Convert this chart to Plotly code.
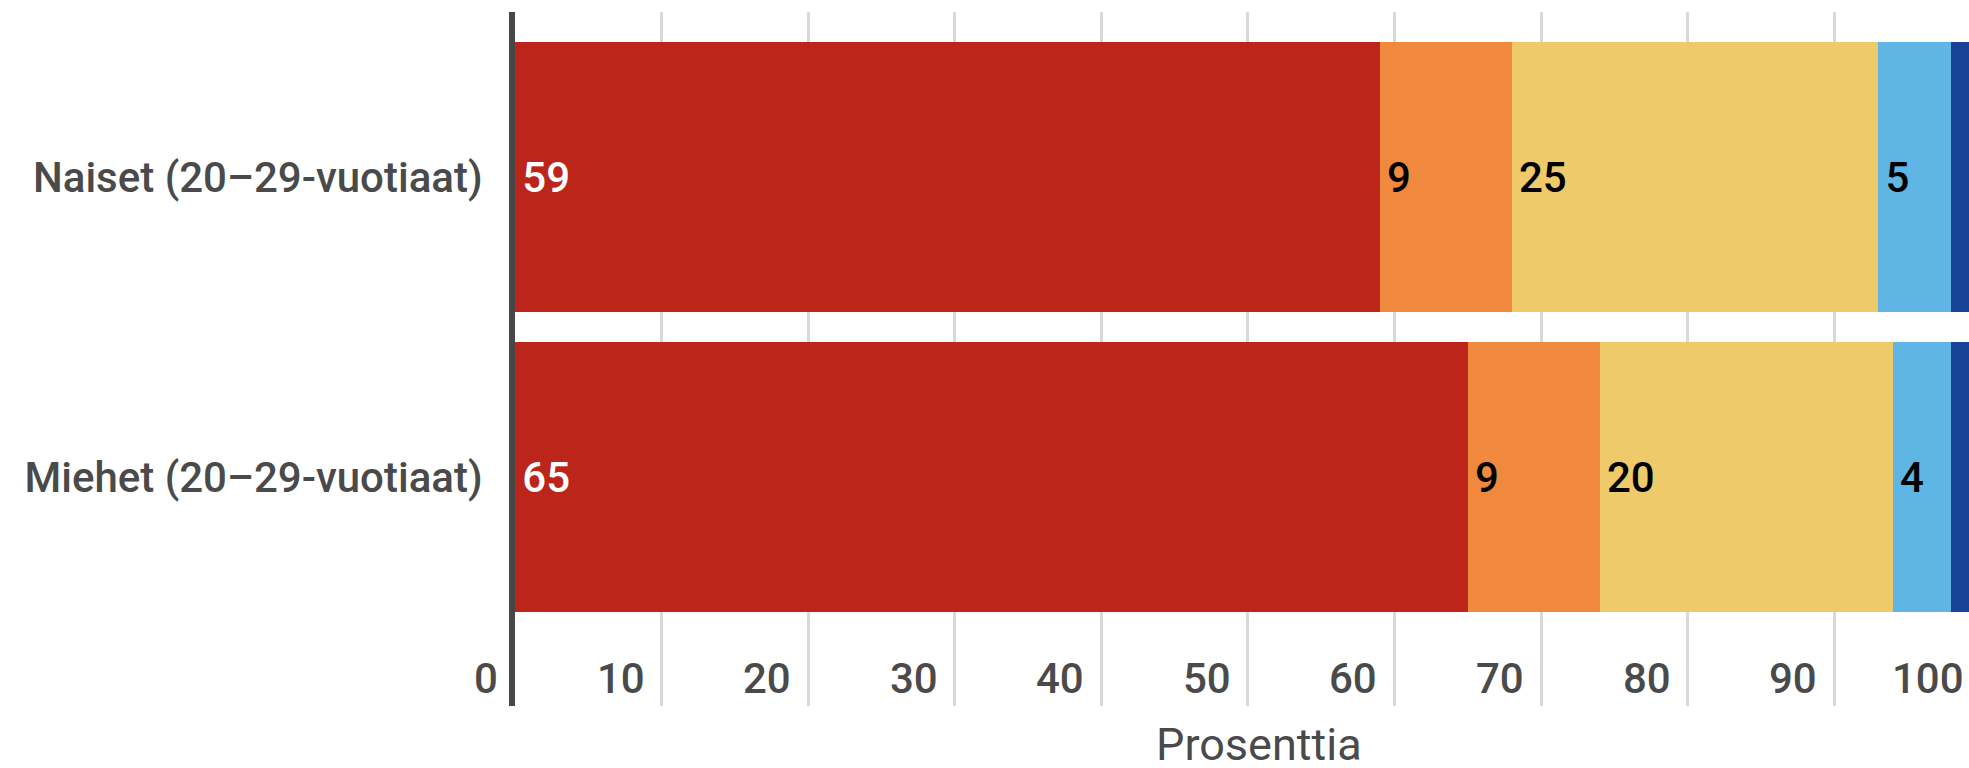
import plotly.graph_objects as go

# Categories (bottom to top, as Plotly draws horizontal bars)
categories = ["Miehet (20–29-vuotiaat)", "Naiset (20–29-vuotiaat)"]

# Series values (percent)
series_names = ["Luokka 1", "Luokka 2", "Luokka 3", "Luokka 4", "Luokka 5"]
s1 = [65, 59]
s2 = [9, 9]
s3 = [20, 25]
s4 = [4, 5]
s5 = [2, 2]
series_values = [s1, s2, s3, s4, s5]
series_labels_shown = [True, True, True, True, False]

colors = ["#BC251A", "#F0883E", "#EECA6A", "#5FB5E3", "#174296"]
text_colors = ["#FFFFFF", "#000000", "#000000", "#000000", "#000000"]

tick_values = [0, 10, 20, 30, 40, 50, 60, 70, 80, 90, 100]
tick_labels = ["0", "10", "20", "30", "40", "50", "60", "70", "80", "90", "100"]
x_title = "Prosenttia"

X_MIN, X_MAX = 0, 99.2
FONT = "Roboto"

fig = go.Figure()
for name, vals, col, tcol, show in zip(series_names, series_values, colors,
                                        text_colors, series_labels_shown):
    fig.add_trace(go.Bar(
        y=categories, x=vals, name=name, orientation="h",
        marker=dict(color=col, line=dict(width=0)),
        text=["\u200a" + str(v) for v in vals] if show else None,
        textposition="inside", insidetextanchor="start",
        textfont=dict(family=FONT, size=42, color=tcol, weight=500),
        constraintext="none",
        hoverinfo="x+y+name",
    ))

annotations = []
for v, lab in zip(tick_values, tick_labels):
    frac = (v - X_MIN) / (X_MAX - X_MIN)
    annotations.append(dict(
        x=frac, xref="x domain", y=0, yref="paper",
        text=lab, showarrow=False, xanchor="right", yanchor="middle",
        xshift=-15, yshift=28,
        font=dict(family=FONT, size=42, color="#4A4A4A", weight=500),
    ))
annotations.append(dict(
    x=0.512, xref="x domain", y=0, yref="paper", text=x_title,
    showarrow=False, xanchor="center", yanchor="middle", yshift=-38,
    font=dict(family=FONT, size=45, color="#4A4A4A"),
))

fig.update_layout(
    width=1969, height=768,
    barmode="stack", bargap=0.1,
    showlegend=False,
    plot_bgcolor="white", paper_bgcolor="white",
    margin=dict(l=515, r=0, t=12, b=62),
    xaxis=dict(
        range=[X_MIN, X_MAX], tickvals=tick_values, showticklabels=False,
        showgrid=True, gridcolor="#D9D9D9", gridwidth=3,
        zeroline=False, showline=False, ticks="",
    ),
    yaxis=dict(
        categoryorder="array", categoryarray=categories,
        range=[-0.763, 1.55],
        showline=True, linecolor="#474747", linewidth=6,
        ticks="", ticklabelstandoff=18,
        tickfont=dict(family=FONT, size=42, color="#4A4A4A", weight=500),
        showgrid=False, zeroline=False,
    ),
    annotations=annotations,
)

fig.write_html(
    "out.html",
    config={"displayModeBar": False},
    post_script="document.body.style.margin='0px';document.body.style.overflow='hidden';",
)
